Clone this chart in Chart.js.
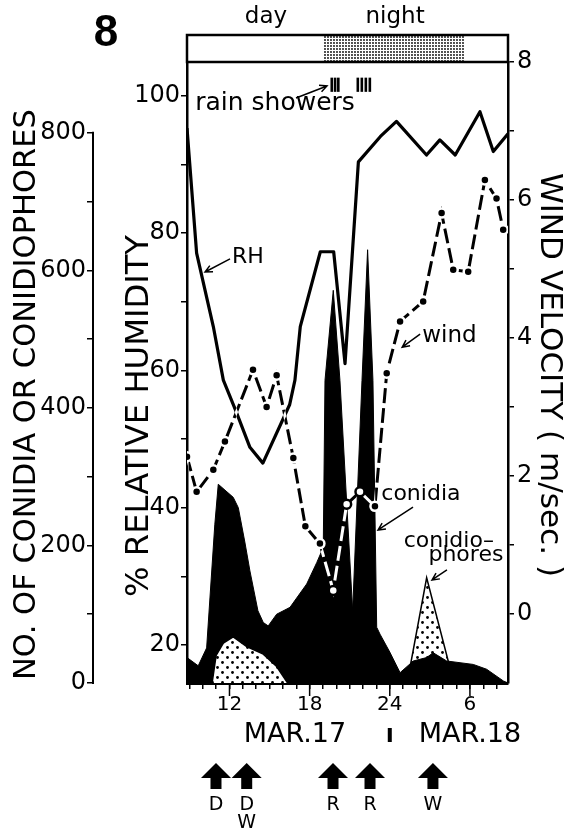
<!DOCTYPE html>
<html lang="en">
<head>
<meta charset="UTF-8">
<title>Fig. 8 - conidia, humidity and wind, Mar 17-18</title>
<script src="https://cdn.jsdelivr.net/npm/chart.js"></script>
<style>
  html, body { margin: 0; padding: 0; background: #fff; }
  canvas { display: block; }
</style>
</head>
<body>
<canvas id="fig" width="566" height="832"></canvas>
<script>
// hours are counted from midnight before Mar 17 (24 = midnight, 30 = 6 a.m. Mar 18)
const hourTicks = [9, 10, 11, 12, 13, 14, 15, 16, 17, 18, 19, 20, 21, 22, 23, 24, 25, 26, 27, 28, 29, 30, 31, 32];
const hourLabelAt = [12, 18, 24, 30];
const hourLabelText = ['12', '18', '24', '6'];

const rhTicks = [20, 30, 40, 50, 60, 70, 80, 90, 100];
const windTicks = [0, 1, 2, 3, 4, 5, 6, 7, 8];
const countTicks = [0, 100, 200, 300, 400, 500, 600, 700, 800];

// relative humidity, %
const rhHours = [8.82, 9.54, 10.79, 11.54, 12.5, 13.53, 14.5, 16.5, 16.9, 17.3, 18.8, 19.8, 20.65, 21.65, 23.3, 24.5, 26.75, 27.75, 28.9, 30.75, 31.75, 32.85];
const rhValues = [95.3, 77.1, 66.4, 58.6, 54, 48.8, 46.5, 55, 58.6, 66.4, 77.3, 77.3, 61, 90.4, 94.1, 96.3, 91.4, 93.6, 91.4, 97.7, 91.9, 94.5];

// wind velocity, m/sec
const windHours = [8.82, 9.54, 10.79, 11.66, 13.76, 14.78, 15.53, 16.78, 17.68, 18.77, 19.77, 20.77, 21.77, 22.89, 23.77, 24.77, 26.5, 27.88, 28.75, 29.87, 31.12, 31.99, 32.49];
const windValues = [2.28, 1.77, 2.09, 2.5, 3.54, 3.0, 3.46, 2.26, 1.27, 1.02, 0.34, 1.59, 1.77, 1.56, 3.49, 4.24, 4.53, 5.81, 4.99, 4.96, 6.29, 6.02, 5.57];

// number of conidia
const conidiaHours = [8.82, 9.66, 10.29, 10.9, 11.16, 12.28, 12.66, 13.15, 13.53, 14.13, 14.53, 14.9, 15.53, 16.53, 17.78, 18.53, 19.02, 19.15, 19.77, 20.27, 21.22, 21.92, 22.34, 22.74, 23.02, 23.27, 24.0, 24.77, 25.76, 26.76, 27.25, 28.26, 30.25, 31.25, 32.5, 32.85];
const conidiaValues = [37, 25, 51, 230, 289, 270, 255, 205, 163, 105, 88, 83, 100, 110, 144, 175, 197, 440, 571, 440, 105, 440, 630, 440, 81, 71, 45, 15, 32, 37, 44, 32, 27, 20, 3, 0];

// number of conidiophores (two flushes)
const phoresEarlyHours = [10.7, 11.0, 11.54, 12.28, 13.29, 14.53, 15.53, 16.35];
const phoresEarlyValues = [0, 40, 58, 67, 53, 42, 24, 0];
const phoresLateHours = [25.3, 26.76, 28.8];
const phoresLateValues = [0, 153, 0];

const nightStart = 19.0;
const nightEnd = 29.6;
const rainHours = [19.65, 19.9, 20.14, 21.6, 21.9, 22.2, 22.5];
const eventHours = [10.99, 13.29, 19.75, 22.52, 27.23];
const eventCodes = ['D', 'D W', 'R', 'R', 'W'];

// labels inside the plot, placed in hours / %RH
const notes = [
  { text: 'rain showers', h: 15.41, rh: 97.9, size: 25 },
  { text: 'RH', h: 13.38, rh: 75.7, size: 22 },
  { text: 'wind', h: 28.47, rh: 64.15, size: 23 },
  { text: 'conidia', h: 26.33, rh: 41.13, size: 22 },
  { text: 'conidio\u2013', h: 28.42, rh: 34.28, size: 22 },
  { text: 'phores', h: 29.7, rh: 32.24, size: 22 }
];
const pointers = [
  [16.98, 99.7, 19.3, 101.46],
  [12.04, 76.25, 10.17, 74.35],
  [26.27, 65.3, 24.93, 63.4],
  [25.74, 40.1, 23.12, 36.76],
  [28.28, 30.93, 27.16, 29.47]
];

const pts = (xs, ys) => xs.map((x, i) => ({ x: x, y: ys[i] }));

function dotPattern(size, spots, r) {
  const c = document.createElement('canvas');
  c.width = c.height = size;
  const g = c.getContext('2d');
  g.fillStyle = '#fff';
  g.fillRect(0, 0, size, size);
  g.fillStyle = '#000';
  spots.forEach(p => { g.beginPath(); g.arc(p[0], p[1], r, 0, Math.PI * 2); g.fill(); });
  return g.createPattern(c, 'repeat');
}
const coarseDots = dotPattern(10, [[2.5, 2.5], [7.5, 7.5]], 1.4);
const fineDots = dotPattern(3, [[1, 1]], 0.9);

function conidiaAt(h) {
  for (let i = 1; i < conidiaHours.length; i++) {
    if (h <= conidiaHours[i]) {
      const t = (h - conidiaHours[i - 1]) / (conidiaHours[i] - conidiaHours[i - 1]);
      return conidiaValues[i - 1] + t * (conidiaValues[i] - conidiaValues[i - 1]);
    }
  }
  return 0;
}
// true when a wind point sits on the black conidia area
function overDark(c) {
  const s = c.chart.scales;
  if (!c.raw || !s.yW || !s.yC) return false;
  return s.yW.getPixelForValue(c.raw.y) > s.yC.getPixelForValue(conidiaAt(c.raw.x)) + 1;
}

function fitText(c, text, x, y, rot, font, len) {
  c.save();
  c.translate(x, y);
  c.rotate(rot);
  c.font = font;
  c.scale(len / c.measureText(text).width, 1);
  c.textAlign = 'left';
  c.textBaseline = 'middle';
  c.fillText(text, 0, 0);
  c.restore();
}

function pointer(c, x1, y1, x2, y2) {
  const a = Math.atan2(y2 - y1, x2 - x1);
  c.beginPath();
  c.moveTo(x1, y1);
  c.lineTo(x2, y2);
  c.moveTo(x2 - 8 * Math.cos(a - 0.45), y2 - 8 * Math.sin(a - 0.45));
  c.lineTo(x2, y2);
  c.lineTo(x2 - 8 * Math.cos(a + 0.45), y2 - 8 * Math.sin(a + 0.45));
  c.stroke();
}

const figureDecor = {
  id: 'figureDecor',
  beforeDraw(chart) {
    const c = chart.ctx;
    c.save();
    c.fillStyle = '#fff';
    c.fillRect(0, 0, chart.width, chart.height);
    c.restore();
  },
  beforeDatasetDraw(chart, args) {
    const ds = chart.data.datasets[args.index];
    if (ds.blend) { chart.ctx.save(); chart.ctx.globalCompositeOperation = ds.blend; }
  },
  afterDatasetDraw(chart, args) {
    if (chart.data.datasets[args.index].blend) chart.ctx.restore();
  },
  afterDraw(chart) {
    const c = chart.ctx;
    const { left, right, top, bottom } = chart.chartArea;
    const sx = chart.scales.x, sy = chart.scales.yRH, sc = chart.scales.yC, sw = chart.scales.yW;
    const X = h => sx.getPixelForValue(h);
    const Y = v => sy.getPixelForValue(v);
    c.save();
    c.fillStyle = '#000';
    c.strokeStyle = '#000';

    // day / night band
    const bandTop = top - 27;
    c.fillStyle = fineDots;
    c.fillRect(X(nightStart), bandTop, X(nightEnd) - X(nightStart), 27);
    c.fillStyle = '#000';
    c.lineWidth = 2.5;
    c.strokeRect(left, bandTop, right - left, 27);
    c.font = '23px "DejaVu Sans"';
    c.textAlign = 'center';
    c.textBaseline = 'alphabetic';
    c.fillText('day', X(14.73), top - 39);
    c.fillText('night', X(24.4), top - 39);
    c.font = 'bold 44px "Liberation Sans"';
    c.fillText('8', left - 81, 46);

    // axis titles
    fitText(c, 'NO. OF CONIDIA OR CONIDIOPHORES', sc.left + 27, bottom - 3, -Math.PI / 2, '31px "DejaVu Sans"', 571);
    fitText(c, '% RELATIVE HUMIDITY', sy.left + 46.5, bottom - 86, -Math.PI / 2, '32px "DejaVu Sans"', 362);
    fitText(c, 'WIND VELOCITY ( m/sec. )', sw.left + 41, top + 111, Math.PI / 2, '31px "DejaVu Sans"', 404);

    // separate count axis line, 0 to 800
    c.lineWidth = 2;
    c.beginPath();
    c.moveTo(sc.right, sc.getPixelForValue(0) + 1);
    c.lineTo(sc.right, sc.getPixelForValue(800) - 1);
    c.stroke();

    // rain showers
    rainHours.forEach(h => c.fillRect(X(h) - 1.2, Y(102.67), 2.6, Y(100.6) - Y(102.67)));

    // labels and pointers
    c.textAlign = 'center';
    notes.forEach(n => {
      c.font = n.size + 'px "DejaVu Sans"';
      c.fillText(n.text, X(n.h), Y(n.rh));
    });
    c.lineWidth = 1.5;
    pointers.forEach(p => pointer(c, X(p[0]), Y(p[1]), X(p[2]), Y(p[3])));

    // longer ticks at labelled hours
    c.lineWidth = 1.5;
    hourLabelAt.forEach(h => {
      c.beginPath();
      c.moveTo(X(h), bottom);
      c.lineTo(X(h), bottom + 13);
      c.stroke();
    });

    // dates
    c.font = '27px "DejaVu Sans"';
    c.fillText('MAR.17', X(16.9), bottom + 59);
    c.fillText('MAR.18', X(30.0), bottom + 59);
    c.fillRect(X(24) - 2, bottom + 45, 4, 14);

    // event arrows
    c.font = '19px "DejaVu Sans"';
    c.textBaseline = 'middle';
    eventHours.forEach((h, i) => {
      const cx = X(h);
      c.beginPath();
      c.moveTo(cx - 15, bottom + 95);
      c.lineTo(cx, bottom + 80);
      c.lineTo(cx + 15, bottom + 95);
      c.closePath();
      c.fill();
      c.fillRect(cx - 5.5, bottom + 94, 11, 12);
      eventCodes[i].split(' ').forEach((t, k) => c.fillText(t, cx, bottom + 122 + k * 18));
    });
    c.restore();
  }
};

Chart.defaults.font.family = '"DejaVu Sans", sans-serif';
Chart.defaults.color = '#000';

const tickGrid = { drawOnChartArea: false, drawTicks: true, tickLength: 6, color: '#000', lineWidth: 1.5 };
const setTicks = list => scale => { scale.ticks = list.map(v => ({ value: v })); };

new Chart(document.getElementById('fig'), {
  type: 'line',
  data: {
    datasets: [
      {
        label: 'wind points',
        data: pts(windHours, windValues),
        yAxisID: 'yW',
        showLine: false,
        pointRadius: 4.5,
        pointBorderWidth: 2.5,
        pointBackgroundColor: c => overDark(c) ? '#fff' : '#000',
        pointBorderColor: c => overDark(c) ? '#000' : '#fff',
        order: 0
      },
      {
        label: 'wind',
        data: pts(windHours, windValues),
        yAxisID: 'yW',
        borderColor: '#fff',
        borderWidth: 3,
        borderDash: [15, 5],
        pointRadius: 0,
        blend: 'difference',
        order: 1
      },
      {
        label: 'RH',
        data: pts(rhHours, rhValues),
        yAxisID: 'yRH',
        borderColor: '#000',
        borderWidth: 3.2,
        borderJoinStyle: 'round',
        pointRadius: 0,
        order: 2
      },
      {
        label: 'conidiophores',
        data: pts(phoresEarlyHours, phoresEarlyValues),
        yAxisID: 'yC',
        borderColor: '#000',
        borderWidth: 1.5,
        backgroundColor: coarseDots,
        fill: 'origin',
        pointRadius: 0,
        order: 3
      },
      {
        label: 'conidia',
        data: pts(conidiaHours, conidiaValues),
        yAxisID: 'yC',
        borderColor: '#000',
        borderWidth: 1,
        backgroundColor: '#000',
        fill: 'origin',
        pointRadius: 0,
        order: 4
      },
      {
        label: 'conidiophores late',
        data: pts(phoresLateHours, phoresLateValues),
        yAxisID: 'yC',
        borderColor: '#000',
        borderWidth: 1.5,
        backgroundColor: coarseDots,
        fill: 'origin',
        pointRadius: 0,
        order: 5
      }
    ]
  },
  options: {
    responsive: false,
    animation: false,
    events: [],
    layout: { padding: { top: 62, left: 0, right: 0, bottom: 0 } },
    plugins: { legend: { display: false }, tooltip: { enabled: false } },
    scales: {
      x: {
        type: 'linear',
        min: 8.82,
        max: 32.85,
        afterBuildTicks: setTicks(hourTicks),
        afterFit: s => { s.height = 149; },
        ticks: {
          autoSkip: false,
          maxRotation: 0,
          padding: 4,
          font: { size: 20 },
          callback: v => { const i = hourLabelAt.indexOf(v); return i < 0 ? '' : hourLabelText[i]; }
        },
        grid: tickGrid,
        border: { color: '#000', width: 3 }
      },
      yC: {
        position: 'left',
        weight: 2,
        min: 0,
        max: 903,
        afterBuildTicks: setTicks(countTicks),
        afterFit: s => { s.width = 93; },
        ticks: { padding: 1, font: { size: 24 }, callback: v => v % 200 === 0 ? String(v) : '' },
        grid: tickGrid,
        border: { display: false }
      },
      yRH: {
        position: 'left',
        weight: 1,
        min: 14.46,
        max: 104.95,
        afterBuildTicks: setTicks(rhTicks),
        afterFit: s => { s.width = 94; },
        ticks: { padding: 1, font: { size: 24 }, callback: v => v % 20 === 0 ? String(v) : '' },
        grid: tickGrid,
        border: { color: '#000', width: 2.5 }
      },
      yW: {
        position: 'right',
        min: -1,
        max: 8,
        afterBuildTicks: setTicks(windTicks),
        afterFit: s => { s.width = 58; },
        ticks: { padding: 3, font: { size: 24 }, callback: v => v % 2 === 0 ? String(v) : '' },
        grid: tickGrid,
        border: { color: '#000', width: 2.5 }
      }
    }
  },
  plugins: [figureDecor]
});
</script>
</body>
</html>
